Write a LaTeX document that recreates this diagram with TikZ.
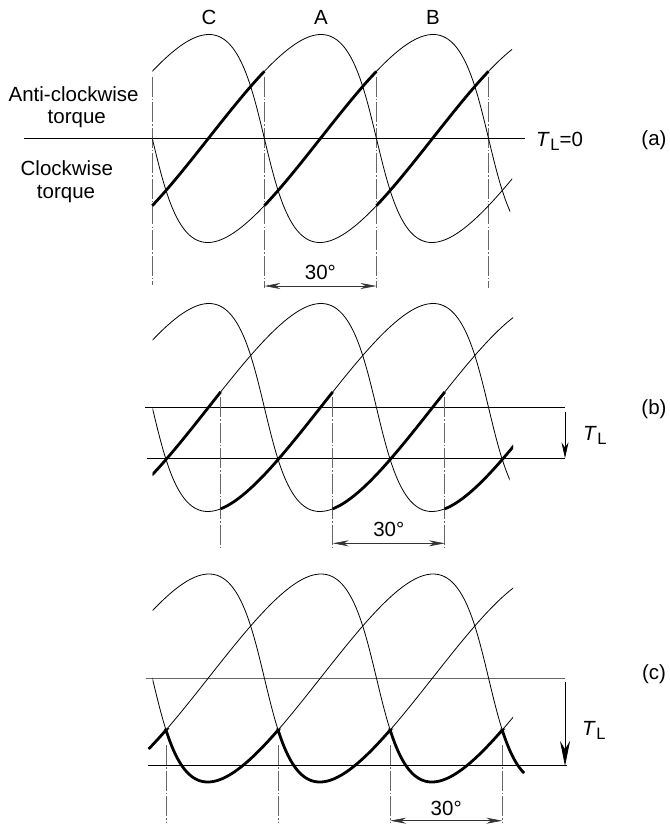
\documentclass[tikz,border=0pt]{standalone}
\usepackage{fontspec}
\setmainfont{Liberation Sans}
\usetikzlibrary{arrows.meta}
\newcommand\thinwave[4]{%
  \begin{scope}
    \clip (#3,#2-125) rectangle (#4,#2+125);
    \draw[wave] plot[domain=-360:720,samples=541,variable=\t] ({wx(\t,#1)},{wy(\t,#2)});
  \end{scope}}
\newcommand\TLsym{\textit{T}\kern0.5pt\raisebox{-4pt}{\fontsize{16.5}{18}\selectfont L}}
\begin{document}
\begin{tikzpicture}[x=1pt,y=-1pt,
  declare function={wx(\t,\z)=\z+0.934*(\t-180)+28.6*sin(\t); wy(\t,\c)=\c-104*sin(\t);},
  wave/.style={line width=0.8pt},
  heavy/.style={line width=2.8pt},
  axis/.style={line width=1pt},
  centreline/.style={line width=0.8pt, black!60, dash pattern=on 20pt off 2pt on 1.5pt off 2pt},
  dim/.style={line width=0.6pt, black!80, {Stealth[length=16pt,width=6pt]}-{Stealth[length=16pt,width=6pt]}},
  lbl/.style={font=\fontsize{20.5}{24}\selectfont, inner sep=0pt, anchor=base},
]
\useasboundingbox (0,0) rectangle (669,826);

% ---------------- panel (a) ----------------
\node[lbl] (labC) at (209,25) {C};
\node[lbl] (labA) at (321,25) {A};
\node[lbl] (labB) at (433,25) {B};
\node[lbl] (acw1) at (73.6,101.5) {Anti-clockwise};
\node[lbl] (acw2) at (76.8,124) {torque};
\node[lbl] (cw1) at (66.8,175.6) {Clockwise};
\node[lbl] (cw2) at (66,198.5) {torque};
\node[lbl, anchor=base west] (tl0) at (536,146.3) {\TLsym=0};
\node[lbl] (pa) at (654,146) {(a)};

\draw[axis] (24,138.5) -- (525,138.5);
\foreach \x/\b in {152.3/285,264.4/288,376.4/288,488.5/288}
  \draw[centreline] (\x,77) -- (\x,\b);

\thinwave{264.37}{138.5}{152.3}{512}
\thinwave{376.44}{138.5}{152.3}{512}
\thinwave{152.3}{138.5}{152.3}{510}
\foreach \z in {376.44,488.51,600.58}
  \draw[heavy] plot[domain=-40.2:40.2,samples=60,variable=\t] ({wx(\t,\z)},{wy(\t,138.5)});

\coordinate (da1) at (264.4,286);
\coordinate (da2) at (376.4,286);
\draw[dim] (da1) -- (da2);
\node[lbl] (dega) at (320.4,279) {30°};

% ---------------- panel (b) ----------------
\node[lbl, anchor=base west] (tlb) at (583,440) {\TLsym};
\node[lbl] (pb) at (654,414) {(b)};
\draw[axis] (145,407.5) -- (565,407.5);
\draw[axis] (146.7,458.3) -- (565,458.3);
\coordinate (tb1) at (565,411.5);
\coordinate (tb2) at (565,458.3);
\draw[line width=0.8pt, -{Stealth[length=16pt,width=7pt]}] (tb1) -- (tb2);
\foreach \x in {220.7,332.8,444.8}
  \draw[centreline] (\x,397) -- (\x,548);

\thinwave{264.37}{407.5}{152.5}{513}
\thinwave{376.44}{407.5}{152.5}{513}
\thinwave{152.3}{407.5}{152.5}{509.5}
\begin{scope}
  \clip (152.5,250) rectangle (513,560);
  \foreach \z in {40.23,152.3,264.37,376.44}
    \draw[heavy] plot[domain=283.05:368.6,samples=60,variable=\t] ({wx(\t,\z)},{wy(\t,407.5)});
\end{scope}

\coordinate (db1) at (332.8,543.3);
\coordinate (db2) at (444.8,543.3);
\draw[dim] (db1) -- (db2);
\node[lbl] (degb) at (388.8,536.5) {30°};

% ---------------- panel (c) ----------------
\node[lbl, anchor=base west] (tlc) at (582,735.5) {\TLsym};
\node[lbl] (pc) at (654,679.5) {(c)};
\draw[axis, black!60, line width=1.4pt] (146,678.5) -- (565,678.5);
\draw[axis] (148.3,765) -- (567,765);
\coordinate (tc1) at (565,682);
\coordinate (tc2) at (565,766);
\draw[line width=0.8pt, -{Stealth[length=25pt,width=10pt]}] (tc1) -- (tc2);
\foreach \x in {166,278.1,390.2,502.2}
  \draw[centreline] (\x,745) -- (\x,823);

\thinwave{264.37}{678}{152.5}{513}
\thinwave{376.44}{678}{148.7}{513}
\thinwave{152.3}{678}{152.5}{524}
\draw[heavy]
  plot[domain=317:330,samples=8,variable=\t] ({wx(\t,40.23)},{wy(\t,678)})
  -- plot[domain=210:330,samples=61,variable=\t] ({wx(\t,152.3)},{wy(\t,678)})
  -- plot[domain=210:330,samples=61,variable=\t] ({wx(\t,264.37)},{wy(\t,678)})
  -- plot[domain=210:330,samples=61,variable=\t] ({wx(\t,376.44)},{wy(\t,678)})
  -- plot[domain=210:246,samples=20,variable=\t] ({wx(\t,488.51)},{wy(\t,678)});

\coordinate (dc1) at (390.2,820.7);
\coordinate (dc2) at (502.2,820.7);
\draw[dim] (dc1) -- (dc2);
\node[lbl] (degc) at (446.2,815) {30°};
\end{tikzpicture}
\end{document}
